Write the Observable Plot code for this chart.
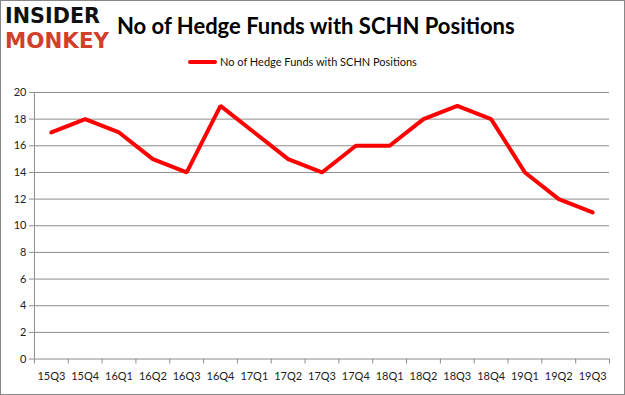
<!DOCTYPE html>
<html><head><meta charset="utf-8">
<script src="https://cdn.jsdelivr.net/npm/d3@7"></script>
<script src="https://cdn.jsdelivr.net/npm/@observablehq/plot@0.6"></script>
<style>
body{margin:0;background:#fff;}
#wrap{position:relative;width:623px;height:393px;border:1px solid #888;overflow:hidden;font-family:Lato,"Open Sans",sans-serif;}
.logo{position:absolute;left:4px;font-family:"DejaVu Sans",sans-serif;font-weight:bold;font-size:21px;line-height:normal;white-space:nowrap;transform-origin:0 0;}
#l1{top:3px;color:#111;}
#l2{top:28px;color:#d0402b;}
#title{position:absolute;left:116px;top:11px;font-size:22px;font-weight:bold;color:#000;white-space:nowrap;}
#legend{position:absolute;left:187px;top:54px;font-size:11px;color:#111;display:flex;align-items:center;}
#legend span.sw{display:inline-block;width:29px;height:4px;background:#ff0000;border-radius:2px;margin-right:3px;}
#chart{position:absolute;left:-1px;top:79px;}
</style></head>
<body><div id="wrap">
<div class="logo" id="l1">INSIDER</div>
<div class="logo" id="l2">MONKEY</div>
<div id="title">No of Hedge Funds with SCHN Positions</div>
<div id="legend"><span class="sw"></span>No of Hedge Funds with SCHN Positions</div>
<div id="chart"></div>
</div>
<script>
const quarters = ["15Q3","15Q4","16Q1","16Q2","16Q3","16Q4","17Q1","17Q2","17Q3","17Q4","18Q1","18Q2","18Q3","18Q4","19Q1","19Q2","19Q3"];
const funds = [17,18,17,15,14,19,17,15,14,16,16,18,19,18,14,12,11];
const yTicks = [0,2,4,6,8,10,12,14,16,18,20];

// fit logo words to their widths
[["l1",95],["l2",104]].forEach(([id,w])=>{
  const el=document.getElementById(id);
  const cur=el.getBoundingClientRect().width;
  el.style.transform=`scaleX(${w/cur})`;
});

const data = quarters.map((q,i)=>({i, q, v: funds[i]}));
const idx = quarters.map((_,i)=>i);
const bounds = d3.range(quarters.length+1).map(i=>i-0.5);

const chart = Plot.plot({
  width: 625, height: 315,
  marginLeft: 34, marginRight: 15, marginTop: 12, marginBottom: 36,
  style:{fontFamily:"Lato, 'Open Sans', sans-serif", fontSize:"11px", color:"#222", background:"transparent"},
  x:{type:"linear", domain:[-0.5, quarters.length-0.5]},
  y:{domain:[0,20]},
  marks:[
    Plot.ruleY(yTicks.filter(d=>d>0), {stroke:"#8c8c8c", strokeWidth:1, strokeOpacity:1}),
    Plot.axisY({ticks: yTicks, tickSize:5, tickPadding:3, stroke:"#8c8c8c", strokeOpacity:1, label:null, fill:"#222"}),
    Plot.axisX({ticks: bounds, tickSize:5, tickFormat:()=>"", stroke:"#8c8c8c", strokeOpacity:1, label:null}),
    Plot.axisX({ticks: idx, tickSize:0, tickPadding:13, tickFormat:i=>quarters[i], label:null, fill:"#222"}),
    Plot.ruleY([0], {stroke:"#8c8c8c"}),
    Plot.ruleX([-0.5], {stroke:"#8c8c8c"}),
    Plot.line(data, {x:"i", y:"v", stroke:"#ff0000", strokeWidth:4, strokeLinejoin:"miter"})
  ]
});
document.getElementById("chart").appendChild(chart);
</script>
</body></html>
